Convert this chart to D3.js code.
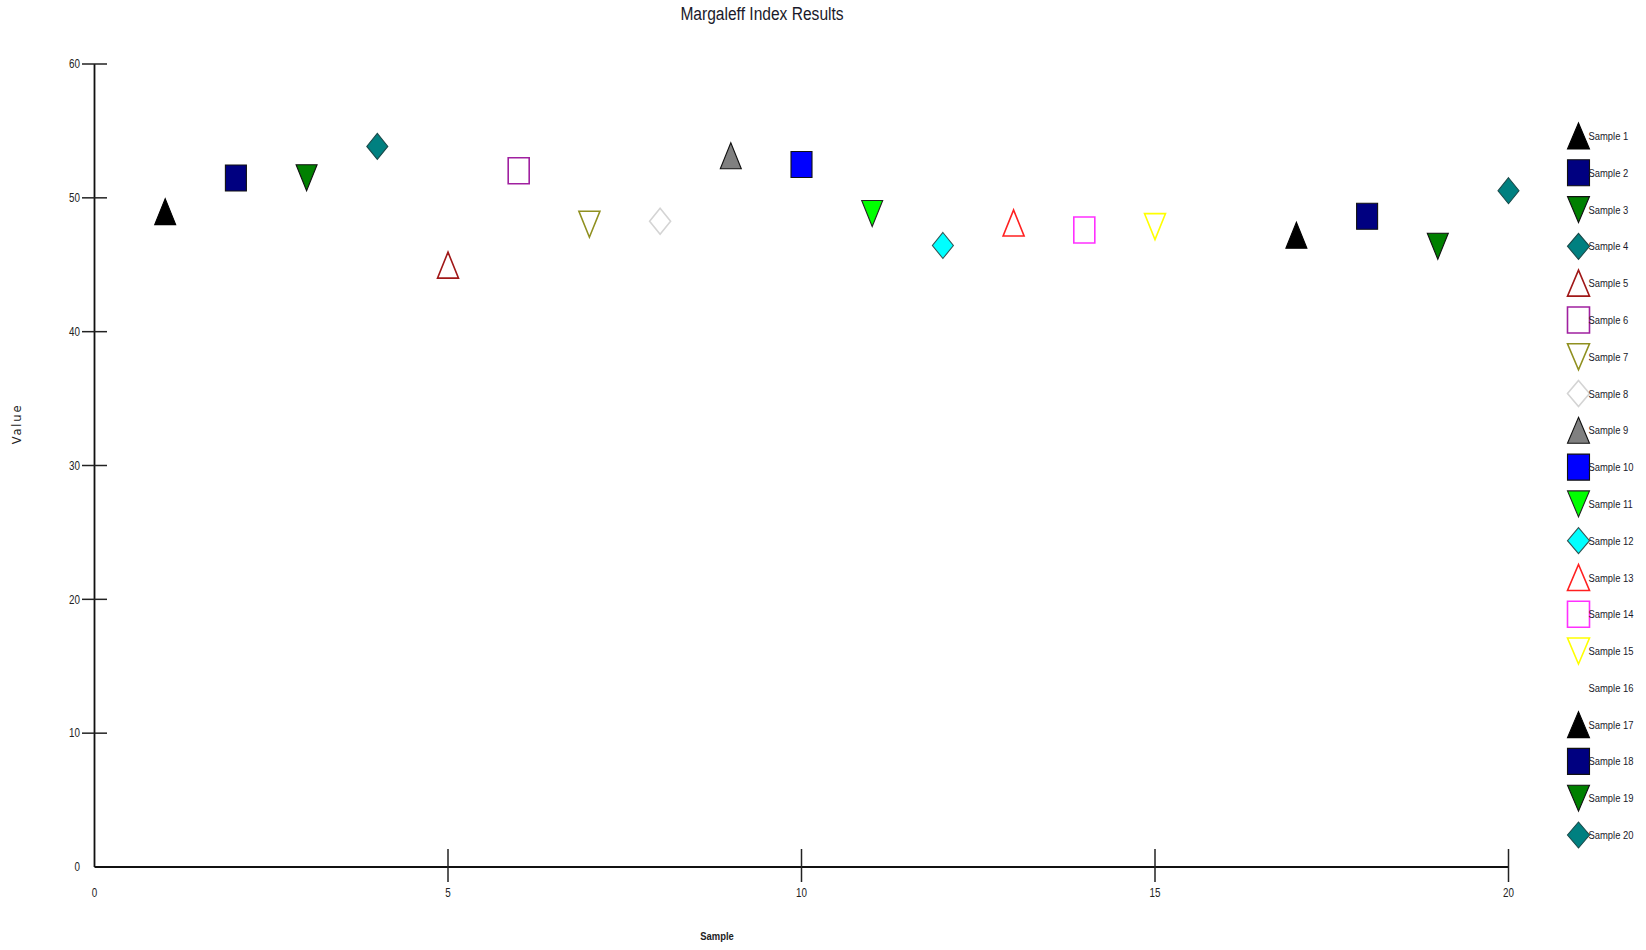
<!DOCTYPE html>
<html>
<head>
<meta charset="utf-8">
<script src="https://cdn.jsdelivr.net/npm/d3@7"></script>
<style>
  html, body { margin: 0; padding: 0; background: #fff; }
  svg { display: block; }
  .narrow { font-family: "Liberation Sans", Arial, sans-serif; }
</style>
</head>
<body>
<svg id="chart" width="1646" height="950"></svg>
<script>
// ---------- data ----------
const samples = ["Sample 1","Sample 2","Sample 3","Sample 4","Sample 5","Sample 6","Sample 7","Sample 8","Sample 9","Sample 10",
                 "Sample 11","Sample 12","Sample 13","Sample 14","Sample 15","Sample 16","Sample 17","Sample 18","Sample 19","Sample 20"];
const sampleNumbers = [1,2,3,4,5,6,7,8,9,10,11,12,13,14,15,16,17,18,19,20];
const values = [48.97, 51.48, 51.50, 53.84, 44.97, 52.02, 48.03, 48.25, 53.15, 52.49,
                48.83, 46.44, 48.12, 47.60, 47.85, null, 47.20, 48.62, 46.38, 50.53];
const shapes = ["triUp","square","triDown","diamond","triUp","square","triDown","diamond","triUp","square",
                "triDown","diamond","triUp","square","triDown","none","triUp","square","triDown","diamond"];
const fills = ["#000000","#000080","#008000","#008080","none","none","none","none","#808080","#0000ff",
               "#00ff00","#00ffff","none","none","none","none","#000000","#000080","#008000","#008080"];
const strokes = ["#000000","#111111","#111111","#1a4a4a","#a01818","#a020a0","#909020","#d4d4d4","#111111","#111111",
                 "#222222","#335555","#ff2020","#ff30ff","#ffff00","none","#000000","#111111","#111111","#1a4a4a"];
const xTicks = [0, 5, 10, 15, 20];
const yTicks = [0, 10, 20, 30, 40, 50, 60];
const titleText = "Margaleff Index Results";
const xLabel = "Sample";
const yLabel = "Value";

// ---------- layout ----------
const svg = d3.select("#chart");
const x = d3.scaleLinear().domain([0, 20]).range([94.5, 1508.5]);
const y = d3.scaleLinear().domain([0, 60]).range([867, 64]);
const SQ = 0.82; // horizontal condensing of text

function shapePath(kind, w, h) {
  const p = d3.path();
  if (kind === "triUp") {
    p.moveTo(0, -h/2); p.lineTo(w/2, h/2); p.lineTo(-w/2, h/2); p.closePath();
  } else if (kind === "triDown") {
    p.moveTo(-w/2, -h/2); p.lineTo(w/2, -h/2); p.lineTo(0, h/2); p.closePath();
  } else if (kind === "square") {
    p.rect(-w/2, -h/2, w, h);
  } else if (kind === "diamond") {
    p.moveTo(0, -h/2); p.lineTo(w/2, 0); p.lineTo(0, h/2); p.lineTo(-w/2, 0); p.closePath();
  } else {
    return "";
  }
  return p.toString();
}
const place = (px, py) => `translate(${px},${py}) scale(${SQ},1)`;

// title
svg.append("text").attr("class", "narrow")
  .attr("transform", place(762, 20))
  .attr("text-anchor", "middle")
  .attr("font-size", 19).attr("fill", "#1a1a2a")
  .text(titleText);

// axes lines
const axisG = svg.append("g");
axisG.append("line").attr("x1", x(0)).attr("x2", x(0)).attr("y1", y(60)).attr("y2", y(0))
  .attr("stroke", "#111").attr("stroke-width", 1.8);
axisG.append("line").attr("x1", x(0)).attr("x2", x(20)).attr("y1", y(0)).attr("y2", y(0))
  .attr("stroke", "#111").attr("stroke-width", 1.8);

// y ticks
axisG.selectAll(".ytick").data(yTicks.filter(d => d !== 0)).enter().append("line")
  .attr("x1", x(0) - 12.5).attr("x2", x(0) + 12.5)
  .attr("y1", d => y(d)).attr("y2", d => y(d))
  .attr("stroke", "#222").attr("stroke-width", 1.5);
axisG.selectAll(".ylab").data(yTicks).enter().append("text").attr("class", "narrow")
  .attr("transform", d => place(80, y(d))).attr("dy", "0.35em")
  .attr("text-anchor", "end").attr("font-size", 12).attr("fill", "#222")
  .text(d => d);

// x ticks
axisG.selectAll(".xtick").data(xTicks.filter(d => d !== 0)).enter().append("line")
  .attr("x1", d => x(d)).attr("x2", d => x(d))
  .attr("y1", y(0) - 18).attr("y2", y(0) + 15)
  .attr("stroke", "#222").attr("stroke-width", 1.5);
axisG.selectAll(".xlab").data(xTicks).enter().append("text").attr("class", "narrow")
  .attr("transform", d => place(x(d), 893)).attr("dy", "0.35em")
  .attr("text-anchor", "middle").attr("font-size", 12).attr("fill", "#222")
  .text(d => d);

// axis titles
svg.append("text").attr("class", "narrow")
  .attr("transform", place(717, 936)).attr("dy", "0.35em")
  .attr("text-anchor", "middle").attr("font-size", 11.5).attr("font-weight", "bold").attr("fill", "#222")
  .text(xLabel);
svg.append("text")
  .attr("transform", "translate(17,424) rotate(-90)")
  .attr("dy", "0.35em")
  .attr("text-anchor", "middle")
  .attr("font-family", "DejaVu Sans, sans-serif")
  .attr("font-size", 11.5).attr("letter-spacing", "1.8px").attr("fill", "#222")
  .text(yLabel);

// points
const pts = sampleNumbers.map((n, i) => ({ n, v: values[i], shape: shapes[i], fill: fills[i], stroke: strokes[i] }))
  .filter(d => d.v !== null && d.shape !== "none");
svg.append("g").selectAll("path").data(pts).enter().append("path")
  .attr("transform", d => `translate(${x(d.n)},${y(d.v)})`)
  .attr("d", d => shapePath(d.shape, 21, 26))
  .attr("fill", d => d.fill === "none" ? "#fff" : d.fill)
  .attr("fill-opacity", d => d.fill === "none" ? 0 : 1)
  .attr("stroke", d => d.stroke)
  .attr("stroke-width", d => d.fill === "none" ? 1.6 : 1.1)
  .attr("stroke-linejoin", "miter");

// legend
const legY = d3.scaleLinear().domain([0, 19]).range([136, 835]);
const leg = svg.append("g").selectAll("g").data(samples).enter().append("g")
  .attr("transform", (d, i) => `translate(0,${legY(i)})`);
leg.append("path")
  .attr("transform", "translate(1578.5,0)")
  .attr("d", (d, i) => shapePath(shapes[i], 22, 26))
  .attr("fill", (d, i) => fills[i] === "none" ? "#fff" : fills[i])
  .attr("fill-opacity", (d, i) => fills[i] === "none" ? 0 : 1)
  .attr("stroke", (d, i) => strokes[i])
  .attr("stroke-width", (d, i) => fills[i] === "none" ? 1.6 : 1.1);
leg.append("text").attr("class", "narrow")
  .attr("transform", place(1588.5, 0)).attr("dy", "0.35em")
  .attr("font-size", 11.5).attr("fill", "#1a1a2a")
  .text(d => d);
</script>
</body>
</html>
